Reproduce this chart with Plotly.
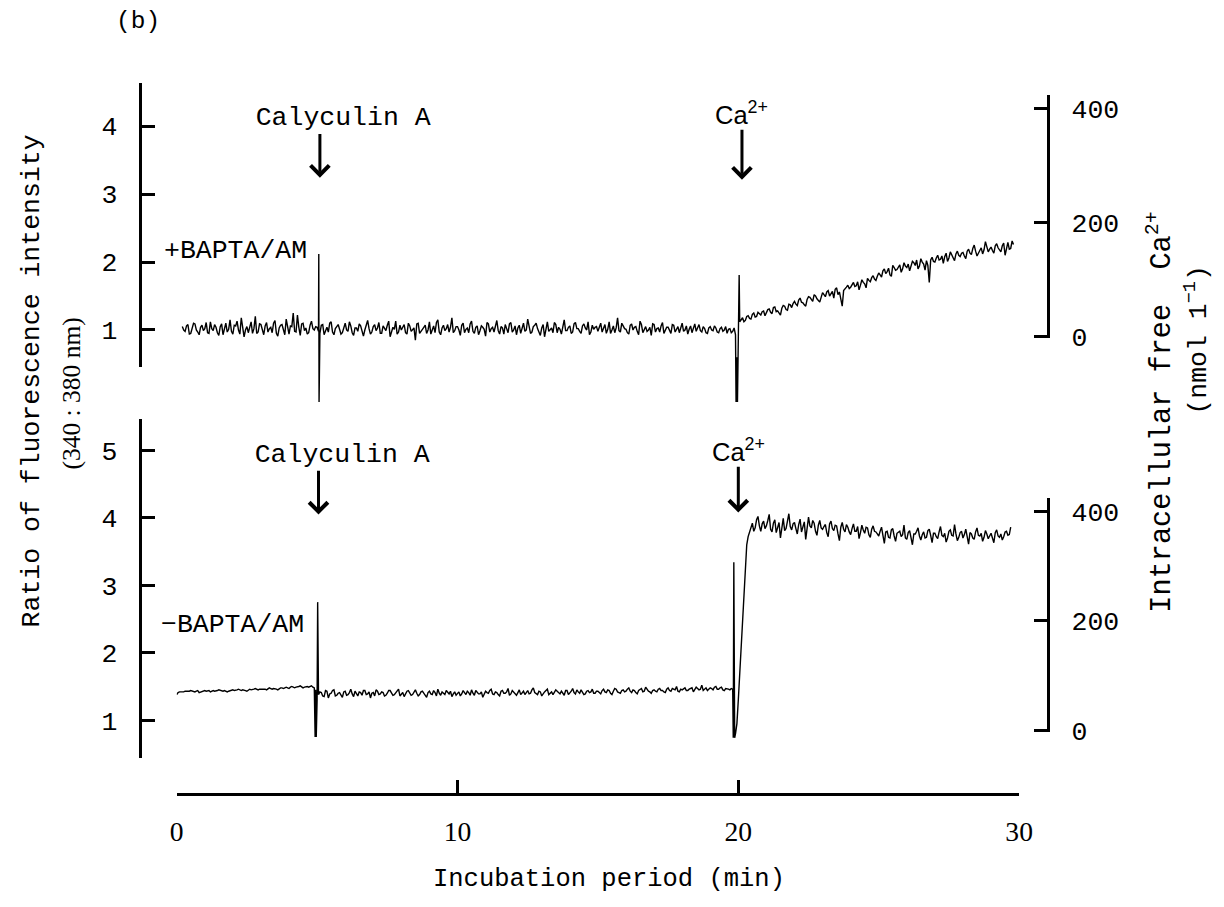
import numpy as np
import plotly.graph_objects as go

W, H = 1224, 907

# ---------------- data ----------------
# upper panel (+BAPTA/AM): ratio 340:380, read every 0.1 min from 0.2 to 29.8 min
top_t_start, top_dt = 0.2, 0.1
top_ratio = [
    1.05, 0.98, 1.08, 0.95, 1.10, 1.00, 0.93, 1.07, 1.02, 0.96,
    1.12, 0.99, 1.04, 0.92, 1.09, 1.01, 0.97, 1.15, 0.94, 1.06,
    1.00, 1.18, 0.90, 1.05, 1.03, 0.95, 1.20, 0.97, 1.08, 0.93,
    1.11, 1.02, 0.96, 1.14, 0.91, 1.07, 1.00, 1.16, 0.94, 1.05,
    0.98, 1.22, 0.92, 1.10, 1.03, 0.96, 1.13, 1.00,
    1.04, 0.95, 1.08, 1.00, 0.97, 1.12, 0.93, 1.05, 1.01, 0.96,
    1.10, 0.98, 1.06, 0.92, 1.03, 1.09, 0.97, 1.00, 1.14, 0.94,
    1.05, 0.99, 1.11, 0.95, 1.02, 1.07, 0.90, 1.04, 1.13, 0.97,
    1.00, 1.08, 0.94, 1.06, 1.01, 0.85, 1.10, 0.98, 1.04, 0.95,
    1.12, 1.00, 0.96, 1.15, 0.93, 1.07, 1.02, 0.97, 1.18, 0.99,
    1.05, 0.92, 1.10, 1.01, 0.96, 1.13, 0.95, 1.06, 0.99, 1.04,
    0.91, 1.09, 1.02, 0.97, 1.14, 0.94, 1.03, 1.08, 0.96, 1.11,
    1.00, 0.93, 1.07, 1.02, 0.98, 1.16, 0.95, 1.05, 1.10, 0.97,
    1.03, 0.90, 1.12, 1.01, 0.96, 1.08, 1.04, 0.94, 1.15, 0.99,
    1.06, 0.97, 1.11, 1.02, 0.95, 1.09, 1.00, 0.93, 1.07, 1.04,
    0.98, 1.10, 1.03, 0.95, 1.12, 1.00, 0.96, 1.18, 0.97, 1.06,
    1.01, 0.94, 1.09, 1.04, 0.98, 1.13, 0.96, 1.05, 1.00, 0.92,
    1.08, 1.02, 0.97, 1.11, 0.99, 1.04, 0.95, 1.07, 1.01, 0.96,
    1.10, 1.00, 0.94, 1.06, 1.03, 0.98, 1.08, 0.97, 1.02, 0.95,
    1.05, 0.99, 1.03, 0.96, 1.04, 1.00, 0.95, 1.02, 0.98, 0.93,
    1.10, 1.15, 1.12, 1.20, 1.17, 1.23, 1.19, 1.26, 1.22, 1.28,
    1.25, 1.31, 1.24, 1.34, 1.28, 1.22, 1.36, 1.30, 1.38, 1.33,
    1.42, 1.36, 1.47, 1.40, 1.35, 1.49, 1.44, 1.52, 1.46, 1.41,
    1.55, 1.49, 1.58, 1.53, 1.47, 1.62, 1.56, 1.35, 1.60, 1.66,
    1.63, 1.70, 1.65, 1.59, 1.74, 1.68, 1.76, 1.71, 1.80, 1.73,
    1.84, 1.78, 1.90, 1.86, 1.81, 1.95, 1.88, 1.93, 1.85, 1.99,
    1.92, 1.87, 2.01, 1.95, 1.90, 2.05, 1.97, 2.02, 1.70, 2.07,
    2.00, 2.10, 2.04, 1.98, 2.13, 2.06, 2.11, 2.02, 2.16, 2.08,
    2.14, 2.05, 2.19, 2.11, 2.25, 2.09, 2.17, 2.12, 2.30, 2.15,
    2.22, 2.13, 2.27, 2.18, 2.24, 2.10, 2.29, 2.20, 2.26,
]
# readings halfway between the above (0.25 ... 29.75 min)
top_ratio_mid = [
    1.00, 1.06, 0.94, 1.03, 1.09, 0.97, 1.04, 0.99, 1.11, 0.95,
    1.02, 1.08, 0.96, 1.05, 0.93, 1.10, 1.01, 0.98, 1.07, 1.13,
    0.94, 1.04, 1.00, 0.96, 1.12, 1.02, 0.95, 1.09, 1.01, 1.06,
    0.97, 1.04, 1.10, 0.95, 1.03, 1.08, 0.93, 1.01, 1.06, 1.25,
    0.97, 1.04, 1.09, 0.99, 0.94, 1.07, 1.02, 1.05,
    0.98, 1.07, 0.93, 1.04, 1.10, 0.97, 1.02, 1.08, 0.94, 1.05,
    1.00, 1.12, 0.96, 1.03, 0.98, 1.06, 0.91, 1.09, 1.02, 0.97,
    1.08, 1.03, 0.95, 1.06, 0.99, 1.13, 0.97, 1.01, 0.94, 1.07,
    1.04, 0.96, 1.10, 0.98, 1.03, 1.09, 0.95, 1.02, 1.07, 1.00,
    0.94, 1.06, 1.11, 0.97, 1.03, 0.99, 1.08, 1.04, 0.96, 1.05,
    1.00, 1.07, 0.96, 1.03, 1.09, 0.98, 1.04, 0.93, 1.06, 1.01,
    1.11, 0.97, 1.04, 1.08, 0.99, 1.05, 0.94, 1.02, 1.09, 0.97,
    1.06, 1.03, 0.95, 1.10, 1.00, 1.04, 0.97, 1.07, 1.02, 0.92,
    1.08, 1.05, 0.98, 1.03, 1.11, 0.96, 1.01, 1.07, 0.99, 1.04,
    0.95, 1.09, 1.02, 0.98, 1.06, 1.03, 1.12, 0.97, 1.01, 1.05,
    1.04, 0.97, 1.08, 1.01, 0.95, 1.06, 1.03, 0.99, 1.10, 1.02,
    0.96, 1.07, 1.00, 1.05, 0.93, 1.08, 1.02, 0.98, 1.04, 1.09,
    0.97, 1.03, 1.06, 0.95, 1.04, 1.00, 1.08, 0.97, 1.05, 1.02,
    0.98, 1.06, 1.01, 0.96, 1.09, 1.02, 0.99, 1.05, 0.96, 1.03,
    1.00, 1.06, 0.97, 1.02, 0.98, 1.05, 1.01, 0.96, 1.03, 0.60,
    1.12, 1.18, 1.14, 1.21, 1.16, 1.25, 1.20, 1.24, 1.27, 1.21,
    1.30, 1.26, 1.33, 1.27, 1.25, 1.32, 1.35, 1.29, 1.37, 1.39,
    1.38, 1.44, 1.41, 1.37, 1.45, 1.48, 1.42, 1.50, 1.43, 1.48,
    1.52, 1.56, 1.50, 1.57, 1.60, 1.52, 1.42, 1.58, 1.63, 1.61,
    1.67, 1.64, 1.71, 1.66, 1.70, 1.62, 1.73, 1.77, 1.75, 1.79,
    1.81, 1.87, 1.83, 1.91, 1.79, 1.92, 1.89, 1.96, 1.90, 1.94,
    1.97, 1.93, 1.99, 2.03, 1.94, 2.00, 1.88, 1.95, 2.03, 2.01,
    2.06, 2.03, 2.09, 2.08, 2.01, 2.15, 2.07, 2.12, 2.10, 2.13,
    2.09, 2.16, 2.13, 2.20, 2.16, 2.13, 2.21, 2.18, 2.23, 2.19,
    2.17, 2.24, 2.21, 2.15, 2.28, 2.23, 2.19, 2.31,
]
# injection artefacts (upper panel)
top_spike_t = [5.06, 5.07, 19.92, 19.97, 20.03]
top_spike_v = [2.12, -0.06, -0.06, -0.06, 1.81]

# lower panel (-BAPTA/AM): read every 0.1 min from 0.0 to 29.7 min
bot_t_start, bot_dt = 0.0, 0.1
bot_ratio = [
    1.38, 1.42, 1.41, 1.43, 1.42, 1.44, 1.42, 1.43, 1.41, 1.43,
    1.44, 1.43, 1.42, 1.44, 1.43, 1.45, 1.43, 1.44, 1.42, 1.44,
    1.45, 1.44, 1.46, 1.44, 1.45, 1.43, 1.46, 1.45, 1.47, 1.45,
    1.46, 1.47, 1.45, 1.48, 1.46, 1.47, 1.45, 1.48, 1.47, 1.49,
    1.47, 1.50, 1.48, 1.49, 1.51, 1.48, 1.50, 1.49, 1.51, 1.48,
    1.30, 1.42, 1.36, 1.44, 1.33, 1.40, 1.45, 1.37, 1.41, 1.34,
    1.43, 1.38, 1.46, 1.35, 1.40, 1.42, 1.37, 1.44, 1.39, 1.33,
    1.41, 1.45, 1.38, 1.42, 1.36, 1.40, 1.44, 1.37, 1.41, 1.46,
    1.39, 1.35, 1.43, 1.40, 1.38, 1.45, 1.36, 1.42, 1.40, 1.34,
    1.43, 1.38, 1.41, 1.46, 1.37, 1.40, 1.44, 1.39, 1.35, 1.42,
    1.40, 1.36, 1.44, 1.38, 1.41, 1.45, 1.37, 1.42, 1.39, 1.34,
    1.43, 1.40, 1.46, 1.38, 1.41, 1.36, 1.44, 1.40, 1.47, 1.39,
    1.42, 1.37, 1.45, 1.41, 1.38, 1.44, 1.40, 1.48, 1.39, 1.43,
    1.36, 1.42, 1.46, 1.40, 1.38, 1.45, 1.41, 1.43, 1.37, 1.44,
    1.40, 1.47, 1.39, 1.42, 1.45, 1.38, 1.43, 1.41, 1.46, 1.40,
    1.43, 1.39, 1.46, 1.41, 1.44, 1.38, 1.47, 1.42, 1.40, 1.45,
    1.43, 1.48, 1.41, 1.44, 1.39, 1.46, 1.42, 1.49, 1.43, 1.40,
    1.45, 1.42, 1.47, 1.44, 1.41, 1.48, 1.43, 1.46, 1.50, 1.42,
    1.45, 1.48, 1.44, 1.47, 1.42, 1.49, 1.45, 1.52, 1.46, 1.44,
    1.48, 1.45, 1.50, 1.46, 1.49, 1.44, 1.47, 1.45, 1.46, 0.80,
    1.30, 2.10, 2.90, 3.60, 3.78, 3.92, 3.85, 4.02, 3.80, 3.95,
    3.88, 4.05, 3.79, 3.97, 3.86, 3.70, 3.99, 3.84, 4.06, 3.82,
    3.93, 3.76, 3.98, 3.87, 3.68, 4.01, 3.85, 3.92, 3.74, 3.96,
    3.83, 3.90, 3.72, 3.95, 3.81, 3.88, 3.66, 3.93, 3.79, 3.86,
    3.75, 3.91, 3.80, 3.69, 3.89, 3.77, 3.85, 3.71, 3.88, 3.79,
    3.73, 3.86, 3.62, 3.80, 3.70, 3.84, 3.65, 3.78, 3.72, 3.89,
    3.68, 3.81, 3.60, 3.76, 3.85, 3.67, 3.79, 3.71, 3.83, 3.63,
    3.77, 3.69, 3.87, 3.72, 3.64, 3.80, 3.74, 3.90, 3.66, 3.78,
    3.70, 3.83, 3.61, 3.76, 3.68, 3.85, 3.73, 3.65, 3.81, 3.69,
    3.77, 3.63, 3.82, 3.71, 3.67, 3.79, 3.74, 3.86,
]
# readings halfway between the above (0.05 ... 29.65 min)
bot_ratio_mid = [
    1.41, 1.42, 1.42, 1.43, 1.43, 1.43, 1.42, 1.44, 1.42, 1.44,
    1.43, 1.44, 1.43, 1.43, 1.44, 1.44, 1.43, 1.43, 1.43, 1.45,
    1.44, 1.45, 1.45, 1.45, 1.44, 1.45, 1.45, 1.46, 1.46, 1.46,
    1.47, 1.46, 1.46, 1.47, 1.47, 1.46, 1.47, 1.48, 1.48, 1.48,
    1.49, 1.49, 1.49, 1.50, 1.50, 1.49, 1.50, 1.50, 1.49, 1.45,
    1.38, 1.41, 1.35, 1.43, 1.39, 1.44, 1.36, 1.40, 1.38, 1.42,
    1.37, 1.41, 1.39, 1.43, 1.36, 1.41, 1.44, 1.38, 1.42, 1.40,
    1.36, 1.43, 1.39, 1.41, 1.37, 1.44, 1.40, 1.38, 1.43, 1.36,
    1.41, 1.39, 1.44, 1.37, 1.42, 1.40, 1.38, 1.43, 1.37, 1.41,
    1.39, 1.44, 1.36, 1.40, 1.42, 1.38, 1.41, 1.43, 1.39, 1.37,
    1.42, 1.39, 1.41, 1.43, 1.37, 1.40, 1.44, 1.39, 1.42, 1.38,
    1.41, 1.44, 1.39, 1.42, 1.38, 1.43, 1.40, 1.42, 1.37, 1.44,
    1.40, 1.41, 1.38, 1.43, 1.42, 1.39, 1.45, 1.41, 1.38, 1.42,
    1.40, 1.44, 1.38, 1.42, 1.41, 1.43, 1.39, 1.40, 1.44, 1.38,
    1.43, 1.41, 1.45, 1.40, 1.42, 1.39, 1.44, 1.42, 1.40, 1.43,
    1.41, 1.44, 1.42, 1.45, 1.40, 1.43, 1.46, 1.41, 1.44, 1.42,
    1.46, 1.43, 1.45, 1.41, 1.44, 1.47, 1.43, 1.45, 1.42, 1.44,
    1.43, 1.46, 1.44, 1.42, 1.46, 1.44, 1.47, 1.45, 1.43, 1.46,
    1.47, 1.44, 1.46, 1.48, 1.45, 1.47, 1.46, 1.44, 1.48, 1.46,
    1.47, 1.49, 1.46, 1.48, 1.45, 1.47, 1.46, 1.47, 2.00, 0.95,
    1.70, 2.50, 3.25, 3.72, 3.86, 3.80, 3.97, 3.88, 3.91, 3.84,
    3.96, 3.83, 3.92, 3.78, 3.93, 3.88, 3.81, 3.95, 3.87, 3.91,
    3.84, 3.90, 3.79, 3.94, 3.82, 3.88, 3.96, 3.80, 3.89, 3.85,
    3.87, 3.78, 3.91, 3.84, 3.89, 3.76, 3.86, 3.83, 3.90, 3.79,
    3.84, 3.80, 3.87, 3.78, 3.82, 3.86, 3.75, 3.83, 3.80, 3.76,
    3.80, 3.74, 3.79, 3.71, 3.82, 3.73, 3.77, 3.80, 3.75, 3.70,
    3.78, 3.72, 3.76, 3.80, 3.73, 3.75, 3.70, 3.81, 3.74, 3.77,
    3.72, 3.79, 3.74, 3.77, 3.70, 3.82, 3.73, 3.76, 3.71, 3.80,
    3.75, 3.72, 3.78, 3.70, 3.79, 3.74, 3.77, 3.71, 3.76, 3.73,
    3.70, 3.78, 3.73, 3.76, 3.72, 3.80, 3.75,
]
bot_spike_t = [4.93, 4.97, 5.02, 19.82, 19.84, 19.87]
bot_spike_v = [0.75, 0.75, 2.75, 0.74, 3.34, 0.74]

assert len(top_ratio_mid) == len(top_ratio) - 1
assert len(bot_ratio_mid) == len(bot_ratio) - 1

x_ticks = [0, 10, 20, 30]
top_ratio_ticks = [1, 2, 3, 4]
bot_ratio_ticks = [1, 2, 3, 4, 5]
ca_ticks = [0, 200, 400]
# injection labels with the time of their arrow in the upper and lower panel
injection_labels = ["Calyculin A", "Ca<sup>2+</sup>"]
injection_t_top = [5.1, 20.13]
injection_t_bot = [5.05, 20.0]


def merged(t0, dt, vals, mids, st, sv):
    t = ([round(t0 + i * dt, 3) for i in range(len(vals))]
         + [round(t0 + dt / 2 + i * dt, 3) for i in range(len(mids))]
         + list(st))
    v = list(vals) + list(mids) + list(sv)
    order = np.argsort(np.array(t), kind="stable")
    return [t[i] for i in order], [v[i] for i in order]


top_t, top_v = merged(top_t_start, top_dt, top_ratio, top_ratio_mid, top_spike_t, top_spike_v)
bot_t, bot_v = merged(bot_t_start, bot_dt, bot_ratio, bot_ratio_mid, bot_spike_t, bot_spike_v)


# ---------------- geometry helpers ----------------
# the page photograph comes out slightly reduced and shifted; place things so
# they land on the wanted screen pixels
S, OX, OY = 0.98, 7.8, 0.8


def px(x):
    return ((x - OX) / S) / W


def py(y):
    return 1 - ((y - OY) / S) / H


def fs(n):
    return round(n / S, 1)


def axis_geom(top_px, bot_px, v1, p1, v2, p2):
    """domain (paper) and range for an axis whose line spans top_px..bot_px
    and where value v1 sits at pixel p1, v2 at pixel p2."""
    k = (v2 - v1) / (p1 - p2)  # value per pixel (upwards)
    lo = v1 - (bot_px - p1) * k
    hi = v1 + (p1 - top_px) * k
    return [py(bot_px), py(top_px)], [lo, hi]


def full_range(domain, rng):
    span = (rng[1] - rng[0]) / (domain[1] - domain[0])
    return [rng[0] - domain[0] * span, rng[1] + (1 - domain[1]) * span]


MONO = "Liberation Mono"
SERIF = "Liberation Serif"
SANS = "Liberation Sans"
common_axis = dict(showline=True, linewidth=3, linecolor="black", ticks="inside",
                   ticklen=fs(13), tickwidth=3, tickcolor="black", showgrid=False,
                   zeroline=False, fixedrange=True)

dom1, rng1 = axis_geom(84, 367, 4, 126.7, 1, 330.0)
dom2, rng2 = axis_geom(96, 338, 400, 109.3, 0, 336.7)
dom3, rng3 = axis_geom(418.3, 756.7, 5, 450.0, 1, 719.3)
dom4, rng4 = axis_geom(497.3, 730.7, 400, 511.0, 0, 729.3)

fig = go.Figure()

# placeholders so every visible axis gets its subplot
for ya in ["y", "y2", "y3", "y4"]:
    fig.add_trace(go.Scatter(x=[None], y=[None], yaxis=ya, xaxis="x",
                             showlegend=False, hoverinfo="skip"))

fig.add_trace(go.Scatter(x=top_t, y=top_v, mode="lines", xaxis="x", yaxis="y5",
                         line=dict(color="black", width=1.4), showlegend=False))
fig.add_trace(go.Scatter(x=bot_t, y=bot_v, mode="lines", xaxis="x", yaxis="y6",
                         line=dict(color="black", width=1.4), showlegend=False))

fig.update_layout(
    width=W, height=H,
    margin=dict(l=0, r=0, t=0, b=0),
    paper_bgcolor="white", plot_bgcolor="rgba(0,0,0,0)",
    font=dict(family=MONO, size=fs(26), color="black"),
    showlegend=False,
    xaxis=dict(common_axis, domain=[px(177), px(1017)], range=[0, 30],
               anchor="free", position=py(793), side="bottom",
               tickvals=x_ticks, ticklabelstandoff=12,
               tickfont=dict(family=SERIF, size=fs(27))),
    yaxis=dict(common_axis, domain=dom1, range=rng1, anchor="free",
               position=px(140), side="left", tickvals=top_ratio_ticks,
               ticklabelstandoff=16, tickfont=dict(family=MONO, size=fs(26))),
    yaxis2=dict(common_axis, domain=dom2, range=rng2, anchor="free",
                position=px(1046), side="right", tickvals=ca_ticks,
                ticklabelstandoff=16, tickfont=dict(family=MONO, size=fs(26))),
    yaxis3=dict(common_axis, domain=dom3, range=rng3, anchor="free",
                position=px(140), side="left", tickvals=bot_ratio_ticks,
                ticklabelstandoff=16, tickfont=dict(family=MONO, size=fs(26))),
    yaxis4=dict(common_axis, domain=dom4, range=rng4, anchor="free",
                position=px(1046), side="right", tickvals=ca_ticks,
                ticklabelstandoff=16, tickfont=dict(family=MONO, size=fs(26))),
    yaxis5=dict(domain=[0, 1], range=full_range(dom1, rng1), anchor="x",
                visible=False, fixedrange=True),
    yaxis6=dict(domain=[0, 1], range=full_range(dom3, rng3), anchor="x",
                visible=False, fixedrange=True),
)

ann = []


def text(s, x, y, size=26, family=MONO, angle=0, xanchor="center"):
    ann.append(dict(text=s, x=px(x), y=py(y), xref="paper", yref="paper",
                    showarrow=False, textangle=angle, xanchor=xanchor,
                    yanchor="middle",
                    font=dict(family=family, size=fs(size), color="black")))


def arrow_label(s, t, y_text, y_tip, size, family):
    # text centred above an arrow whose head points at (t, y_tip)
    ann.append(dict(text=s, x=t, y=py(y_tip), xref="x", yref="paper",
                    showarrow=True, ax=0, ay=-(y_tip - y_text) / S,
                    arrowhead=4, arrowsize=1.2, arrowwidth=3, arrowcolor="black",
                    borderpad=0, standoff=0,
                    font=dict(family=family, size=fs(size), color="black")))


text("(b)", 138, 22, size=24)

# panel labels
text("+BAPTA/AM", 162, 251, xanchor="left")
text("\u2212BAPTA/AM", 159, 624, xanchor="left")

# injections: label + arrow (lead spaces keep the arrow under the word's left part)
pad = "\u00a0" * 3
arrow_label(pad + injection_labels[0], injection_t_top[0], 120, 178, 26, MONO)
arrow_label(pad + injection_labels[0], injection_t_bot[0], 456, 514, 26, MONO)
arrow_label(injection_labels[1], injection_t_top[1], 115, 180, 25, SANS)
arrow_label(injection_labels[1], injection_t_bot[1], 451, 512, 25, SANS)

# axis titles
text("Incubation period (min)", 608, 878, size=25)
text("Ratio of fluorescence intensity", 33, 381, angle=-90)
text("(340 : 380 nm)", 72, 393, size=25, family=SERIF, angle=-90)
text("Intracellular free  Ca<sup>2+</sup>", 1158, 412, size=28, angle=-90)
text("(nmol 1<sup>\u22121</sup>)", 1194, 340, angle=-90)

fig.update_layout(annotations=ann)

page_fix = ("var s=document.documentElement.style;s.margin='0';s.padding='0';s.overflow='hidden';"
            "var b=document.body.style;b.margin='0';b.padding='0';b.overflow='hidden';")
fig.write_html("out.html", post_script=page_fix, config={"displayModeBar": False})
